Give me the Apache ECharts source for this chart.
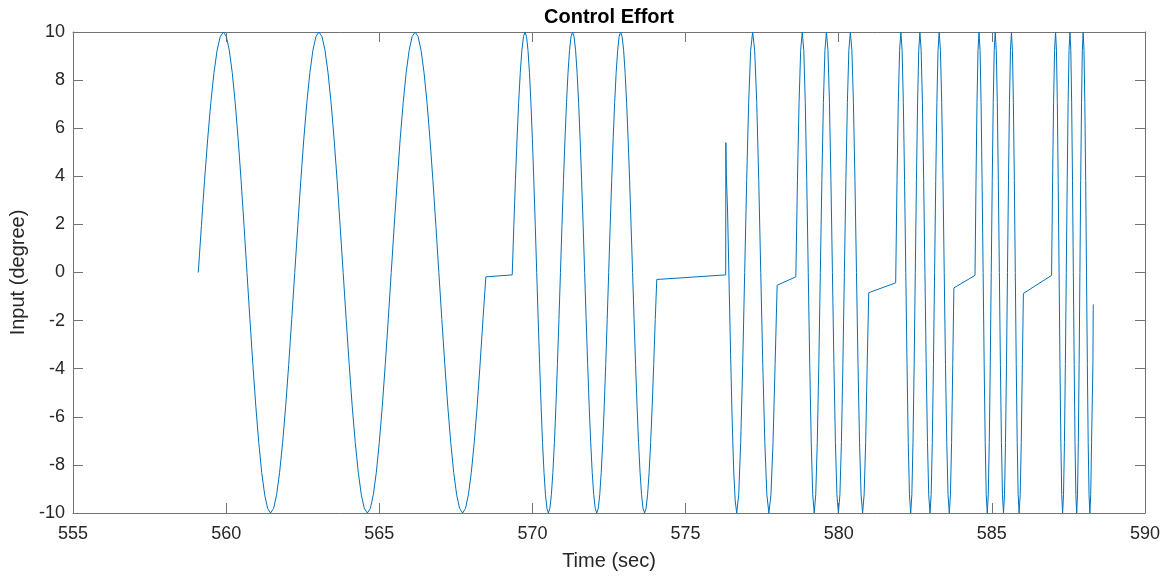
<!DOCTYPE html>
<html>
<head>
<meta charset="utf-8">
<script src="https://cdn.jsdelivr.net/npm/echarts@6/dist/echarts.min.js"></script>
<style>
html,body{margin:0;padding:0;background:#fff;}
#chart{width:1166px;height:576px;}
</style>
</head>
<body>
<div id="chart"></div>
<script>
// Title and axis texts
const chartTitle = 'Control Effort';
const xName = 'Time (sec)';
const yName = 'Input (degree)';

// Axis ticks
const xTicks = [555, 560, 565, 570, 575, 580, 585, 590];
const yTicks = [-10, -8, -6, -4, -2, 0, 2, 4, 6, 8, 10];

// Control effort signal: time (s)
const times = [
  559.09, 559.193, 559.295, 559.398, 559.50, 559.603, 559.705, 559.808, 559.91,
  560.006, 560.103, 560.199, 560.295, 560.391, 560.488, 560.584, 560.68, 560.776, 560.873, 560.969, 561.065, 561.161, 561.258, 561.354, 561.45,
  561.549, 561.648, 561.746, 561.845, 561.944, 562.043, 562.141, 562.24, 562.339, 562.438, 562.536, 562.635, 562.734, 562.833, 562.931, 563.03,
  563.129, 563.228, 563.326, 563.425, 563.524, 563.623, 563.721, 563.82, 563.919, 564.018, 564.116, 564.215, 564.314, 564.413, 564.511, 564.61,
  564.708, 564.805, 564.903, 565.00, 565.098, 565.195, 565.293, 565.39, 565.488, 565.585, 565.683, 565.78, 565.878, 565.975, 566.073, 566.17,
  566.267, 566.364, 566.461, 566.558, 566.654, 566.751, 566.848, 566.945, 567.042, 567.139, 567.236, 567.333, 567.429, 567.526, 567.623, 567.72,
  567.815, 567.91, 568.005, 568.10, 568.195, 568.29, 568.385, 568.48,
  569.34,
  569.393, 569.445, 569.498, 569.55, 569.603, 569.655, 569.708, 569.76,
  569.808, 569.855, 569.903, 569.95, 569.998, 570.045, 570.093, 570.14, 570.188, 570.235, 570.283, 570.33, 570.378, 570.425, 570.473, 570.52,
  570.569, 570.619, 570.668, 570.718, 570.767, 570.816, 570.866, 570.915, 570.964, 571.014, 571.063, 571.113, 571.162, 571.211, 571.261, 571.31,
  571.359, 571.409, 571.458, 571.508, 571.557, 571.606, 571.656, 571.705, 571.754, 571.804, 571.853, 571.903, 571.952, 572.001, 572.051, 572.10,
  572.149, 572.198, 572.246, 572.295, 572.344, 572.393, 572.441, 572.49, 572.539, 572.588, 572.636, 572.685, 572.734, 572.783, 572.831, 572.88,
  572.929, 572.978, 573.026, 573.075, 573.124, 573.173, 573.221, 573.27, 573.319, 573.368, 573.416, 573.465, 573.514, 573.563, 573.611, 573.66,
  573.71, 573.76, 573.81, 573.86, 573.91, 573.96, 574.01, 574.06,
  576.31,
  576.315, 576.33, 576.37, 576.42, 576.47, 576.52, 576.57, 576.62, 576.67,
  576.735, 576.80, 576.865, 576.93, 576.995, 577.06, 577.125, 577.19,
  577.256, 577.323, 577.389, 577.455, 577.521, 577.588, 577.654, 577.72,
  577.788, 577.855, 577.923, 577.99,
  578.60,
  578.653, 578.705, 578.758, 578.81,
  578.859, 578.908, 578.956, 579.005, 579.054, 579.103, 579.151, 579.20,
  579.25, 579.30, 579.35, 579.40, 579.45, 579.50, 579.55, 579.60,
  579.649, 579.698, 579.746, 579.795, 579.844, 579.893, 579.941, 579.99,
  580.039, 580.088, 580.136, 580.185, 580.234, 580.283, 580.331, 580.38,
  580.43, 580.48, 580.53, 580.58, 580.63, 580.68, 580.73, 580.78,
  580.83, 580.88, 580.93, 580.98,
  581.86,
  581.903, 581.945, 581.988, 582.03,
  582.07, 582.11, 582.15, 582.19, 582.23, 582.27, 582.31, 582.35,
  582.388, 582.425, 582.463, 582.50, 582.538, 582.575, 582.613, 582.65,
  582.691, 582.733, 582.774, 582.815, 582.856, 582.898, 582.939, 582.98,
  583.018, 583.055, 583.093, 583.13, 583.168, 583.205, 583.243, 583.28,
  583.321, 583.363, 583.404, 583.445, 583.486, 583.528, 583.569, 583.61,
  583.648, 583.685, 583.723, 583.76,
  584.45,
  584.483, 584.515, 584.548, 584.58,
  584.614, 584.648, 584.681, 584.715, 584.749, 584.783, 584.816, 584.85,
  584.883, 584.915, 584.948, 584.98, 585.013, 585.045, 585.078, 585.11,
  585.144, 585.178, 585.211, 585.245, 585.279, 585.313, 585.346, 585.38,
  585.413, 585.445, 585.478, 585.51, 585.543, 585.575, 585.608, 585.64,
  585.671, 585.703, 585.734, 585.765, 585.796, 585.828, 585.859, 585.89,
  585.925, 585.96, 585.995, 586.03,
  586.95,
  586.983, 587.015, 587.048, 587.08,
  587.109, 587.138, 587.166, 587.195, 587.224, 587.253, 587.281, 587.31,
  587.34, 587.37, 587.40, 587.43, 587.46, 587.49, 587.52, 587.55,
  587.578, 587.605, 587.633, 587.66, 587.688, 587.715, 587.743, 587.77,
  587.796, 587.823, 587.849, 587.875, 587.901, 587.928, 587.954, 587.98,
  588.008, 588.035, 588.063, 588.09, 588.118, 588.145, 588.173, 588.20,
  588.228, 588.255, 588.30, 588.31
];

// Control effort signal: input (degree), row by row matching the times above
const values = [
  0, 1.95, 3.83, 5.56, 7.07, 8.31, 9.24, 9.81, 10,
  9.81, 9.24, 8.31, 7.07, 5.56, 3.83, 1.95, 0, -1.95, -3.83, -5.56, -7.07, -8.31, -9.24, -9.81, -10,
  -9.81, -9.24, -8.31, -7.07, -5.56, -3.83, -1.95, 0, 1.95, 3.83, 5.56, 7.07, 8.31, 9.24, 9.81, 10,
  9.81, 9.24, 8.31, 7.07, 5.56, 3.83, 1.95, 0, -1.95, -3.83, -5.56, -7.07, -8.31, -9.24, -9.81, -10,
  -9.81, -9.24, -8.31, -7.07, -5.56, -3.83, -1.95, 0, 1.95, 3.83, 5.56, 7.07, 8.31, 9.24, 9.81, 10,
  9.81, 9.24, 8.31, 7.07, 5.56, 3.83, 1.95, 0, -1.95, -3.83, -5.56, -7.07, -8.31, -9.24, -9.81, -10,
  -9.81, -9.24, -8.31, -7.07, -5.56, -3.83, -1.95, -0.18,
  -0.10,
  1.95, 3.83, 5.56, 7.07, 8.31, 9.24, 9.81, 10,
  9.81, 9.24, 8.31, 7.07, 5.56, 3.83, 1.95, 0, -1.95, -3.83, -5.56, -7.07, -8.31, -9.24, -9.81, -10,
  -9.81, -9.24, -8.31, -7.07, -5.56, -3.83, -1.95, 0, 1.95, 3.83, 5.56, 7.07, 8.31, 9.24, 9.81, 10,
  9.81, 9.24, 8.31, 7.07, 5.56, 3.83, 1.95, 0, -1.95, -3.83, -5.56, -7.07, -8.31, -9.24, -9.81, -10,
  -9.81, -9.24, -8.31, -7.07, -5.56, -3.83, -1.95, 0, 1.95, 3.83, 5.56, 7.07, 8.31, 9.24, 9.81, 10,
  9.81, 9.24, 8.31, 7.07, 5.56, 3.83, 1.95, 0, -1.95, -3.83, -5.56, -7.07, -8.31, -9.24, -9.81, -10,
  -9.81, -9.24, -8.31, -7.07, -5.56, -3.83, -1.95, -0.29,
  -0.10,
  5.4, 4.1, 2.6, -0.4, -3.4, -6.1, -8.2, -9.5, -10,
  -9.24, -7.07, -3.83, 0, 3.83, 7.07, 9.24, 10,
  9.24, 7.07, 3.83, 0, -3.83, -7.07, -9.24, -10,
  -9.24, -7.07, -3.83, -0.53,
  -0.18,
  3.83, 7.07, 9.24, 10,
  9.24, 7.07, 3.83, 0, -3.83, -7.07, -9.24, -10,
  -9.24, -7.07, -3.83, 0, 3.83, 7.07, 9.24, 10,
  9.24, 7.07, 3.83, 0, -3.83, -7.07, -9.24, -10,
  -9.24, -7.07, -3.83, 0, 3.83, 7.07, 9.24, 10,
  9.24, 7.07, 3.83, 0, -3.83, -7.07, -9.24, -10,
  -9.24, -7.07, -3.83, -0.84,
  -0.43,
  3.83, 7.07, 9.24, 10,
  9.24, 7.07, 3.83, 0, -3.83, -7.07, -9.24, -10,
  -9.24, -7.07, -3.83, 0, 3.83, 7.07, 9.24, 10,
  9.24, 7.07, 3.83, 0, -3.83, -7.07, -9.24, -10,
  -9.24, -7.07, -3.83, 0, 3.83, 7.07, 9.24, 10,
  9.24, 7.07, 3.83, 0, -3.83, -7.07, -9.24, -10,
  -9.24, -7.07, -3.83, -0.64,
  -0.12,
  3.83, 7.07, 9.24, 10,
  9.24, 7.07, 3.83, 0, -3.83, -7.07, -9.24, -10,
  -9.24, -7.07, -3.83, 0, 3.83, 7.07, 9.24, 10,
  9.24, 7.07, 3.83, 0, -3.83, -7.07, -9.24, -10,
  -9.24, -7.07, -3.83, 0, 3.83, 7.07, 9.24, 10,
  9.24, 7.07, 3.83, 0, -3.83, -7.07, -9.24, -10,
  -9.24, -7.07, -3.83, -0.87,
  -0.12,
  3.83, 7.07, 9.24, 10,
  9.24, 7.07, 3.83, 0, -3.83, -7.07, -9.24, -10,
  -9.24, -7.07, -3.83, 0, 3.83, 7.07, 9.24, 10,
  9.24, 7.07, 3.83, 0, -3.83, -7.07, -9.24, -10,
  -9.24, -7.07, -3.83, 0, 3.83, 7.07, 9.24, 10,
  9.24, 7.07, 3.83, 0, -3.83, -7.07, -9.24, -10,
  -9.24, -7.07, -3.75, -1.33
];

const seriesData = times.map((t, i) => [t, values[i]]);

const axisColor = '#737373';
const textColor = '#262626';
const fontFam = 'Arial, "Liberation Sans", Helvetica, sans-serif';

const xMin = xTicks[0], xMax = xTicks[xTicks.length - 1], xStep = xTicks[1] - xTicks[0];
const yMin = yTicks[0], yMax = yTicks[yTicks.length - 1], yStep = yTicks[1] - yTicks[0];

function xAxisCfg(pos, showLabels, name) {
  return {
    type: 'value', position: pos, min: xMin, max: xMax, interval: xStep,
    name: name || '', nameLocation: 'middle', nameGap: 38,
    nameTextStyle: { color: textColor, fontSize: 20, fontFamily: fontFam },
    axisLine: { show: true, onZero: false, lineStyle: { color: axisColor, width: 1 } },
    axisTick: { show: true, inside: true, length: 10, lineStyle: { color: axisColor, width: 1 } },
    axisLabel: { show: showLabels, color: textColor, fontSize: 18, fontFamily: fontFam, margin: 12 },
    splitLine: { show: false }
  };
}
function yAxisCfg(pos, showLabels, name) {
  return {
    type: 'value', position: pos, min: yMin, max: yMax, interval: yStep,
    name: name || '', nameLocation: 'middle', nameGap: 36,
    nameTextStyle: { color: textColor, fontSize: 20, fontFamily: fontFam },
    axisLine: { show: true, onZero: false, lineStyle: { color: axisColor, width: 1 } },
    axisTick: { show: true, inside: true, length: 10, lineStyle: { color: axisColor, width: 1 } },
    axisLabel: { show: showLabels, color: textColor, fontSize: 18, fontFamily: fontFam, margin: 8 },
    splitLine: { show: false }
  };
}

const chart = echarts.init(document.getElementById('chart'), null, { renderer: 'canvas' });
chart.setOption({
  animation: false,
  backgroundColor: '#ffffff',
  title: {
    text: chartTitle, left: 604, top: 2, textAlign: 'center',
    textStyle: { color: '#000', fontSize: 20, fontWeight: 'bold', fontFamily: fontFam }
  },
  grid: { left: 73, right: 21, top: 32, bottom: 62, containLabel: false },
  xAxis: [xAxisCfg('bottom', true, xName), xAxisCfg('top', false)],
  yAxis: [yAxisCfg('left', true, yName), yAxisCfg('right', false)],
  series: [{
    type: 'line',
    xAxisIndex: 0, yAxisIndex: 0,
    data: seriesData,
    showSymbol: false,
    smooth: false,
    lineStyle: { color: '#0072BD', width: 1 },
    itemStyle: { color: '#0072BD' },
    clip: false
  }]
});
</script>
</body>
</html>
